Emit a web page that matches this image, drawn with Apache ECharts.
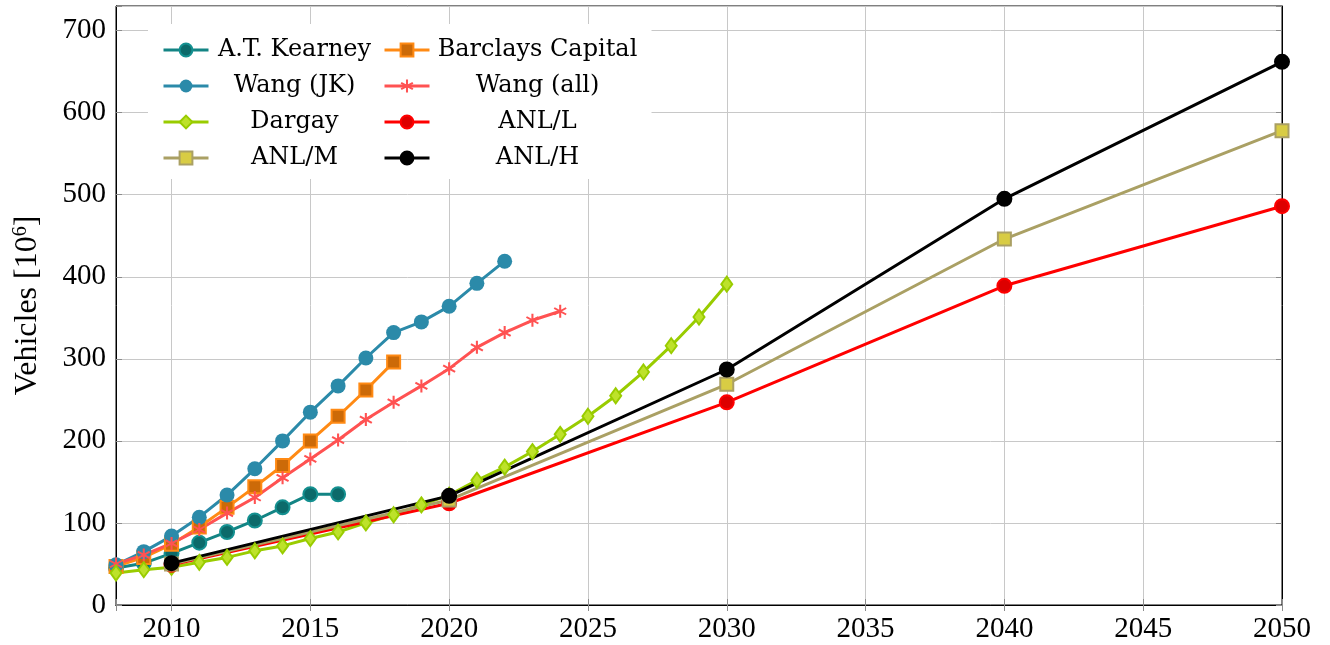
<!DOCTYPE html>
<html>
<head>
<meta charset="utf-8">
<script src="https://cdn.jsdelivr.net/npm/echarts@6/dist/echarts.min.js"></script>
<style>
  html, body { margin: 0; padding: 0; background: #fff; }
  #chart { width: 1330px; height: 645px; }
</style>
</head>
<body>
<div id="chart"></div>
<script>
// Vehicle stock projections (millions of vehicles)
const yearsKearney = [2008, 2009, 2010, 2011, 2012, 2013, 2014, 2015, 2016];
const valsKearney  = [45, 51, 63, 76, 89, 103, 119, 135, 135];

const yearsBarclays = [2008, 2009, 2010, 2011, 2012, 2013, 2014, 2015, 2016, 2017, 2018];
const valsBarclays  = [47, 58, 74, 95, 119, 144, 170, 200, 230, 262, 296];

const yearsWangJK = [2008, 2009, 2010, 2011, 2012, 2013, 2014, 2015, 2016, 2017, 2018, 2019, 2020, 2021, 2022];
const valsWangJK  = [49, 65, 84, 107, 134, 166, 200, 235, 267, 301, 332, 345, 364, 392, 419];

const yearsWangAll = [2008, 2009, 2010, 2011, 2012, 2013, 2014, 2015, 2016, 2017, 2018, 2019, 2020, 2021, 2022, 2023, 2024];
const valsWangAll  = [50, 61, 75, 92, 112, 131, 155, 178, 201, 226, 247, 267, 288, 314, 332, 347, 358];

const yearsDargay = [2008, 2009, 2010, 2011, 2012, 2013, 2014, 2015, 2016, 2017, 2018, 2019,
                     2020, 2021, 2022, 2023, 2024, 2025, 2026, 2027, 2028, 2029, 2030];
const valsDargay  = [39, 43, 46, 52, 58, 66, 72, 81, 89, 100, 110, 122,
                     134, 152, 168, 187, 208, 230, 255, 284, 316, 351, 391];

const yearsANL = [2010, 2020, 2030, 2040, 2050];
const valsANLL = [49, 124, 247, 389, 486];
const valsANLM = [50, 128, 269, 446, 578];
const valsANLH = [51, 133, 287, 495, 662];

const legendLeft  = ['A.T. Kearney', 'Wang (JK)', 'Dargay', 'ANL/M'];
const legendRight = ['Barclays Capital', 'Wang (all)', 'ANL/L', 'ANL/H'];

const pairs = (xs, ys) => xs.map((x, i) => [x, ys[i]]);

// six-armed asterisk marker
const ASTERISK = 'path://M85,0L115,0L115,200L85,200Z' +
  'M179,37L194,63L21,163L6,137Z' +
  'M6,63L21,37L194,137L179,163Z';

const serif = 'Liberation Serif';
const legendFont = 'DejaVu Serif';

function line(name, xs, ys, color, symbol, size, fill, border) {
  return {
    name: name,
    type: 'line',
    data: pairs(xs, ys),
    symbol: symbol,
    symbolSize: size,
    showSymbol: true,
    lineStyle: { color: color, width: 3 },
    itemStyle: { color: fill || color, borderColor: border || color, borderWidth: border ? 2 : 0 },
    emphasis: { disabled: true },
    z: 2
  };
}

const series = [
  line('A.T. Kearney', yearsKearney, valsKearney, '#138484', 'circle', 14, '#0c6a6a', '#149090'),
  line('Barclays Capital', yearsBarclays, valsBarclays, '#ff8a14', 'rect', 13, '#cc6a08', '#ff8a14'),
  line('Wang (JK)', yearsWangJK, valsWangJK, '#2b8aa9', 'circle', 15),
  line('Wang (all)', yearsWangAll, valsWangAll, '#ff5252', ASTERISK, 13),
  line('Dargay', yearsDargay, valsDargay, '#99cc00', 'diamond', [11, 15], '#bde22a', '#99cc00'),
  line('ANL/L', yearsANL, valsANLL, '#ff0000', 'circle', 14, '#dd0000', '#ff0000'),
  line('ANL/M', yearsANL, valsANLM, '#aaa064', 'rect', 13, '#d8cc44', '#aaa064'),
  line('ANL/H', yearsANL, valsANLH, '#000000', 'circle', 14, '#000000', '#000000')
];

function legend(names, left, padding, cellWidth) {
  return {
    data: names,
    orient: 'vertical',
    left: left,
    top: 24,
    padding: padding,
    itemGap: 8,
    itemWidth: 45,
    itemHeight: 16,
    backgroundColor: '#ffffff',
    selectedMode: false,
    lineStyle: { width: 3 },
    formatter: n => '{t|' + n + '}',
    textStyle: {
      fontFamily: legendFont,
      fontSize: 24,
      color: '#000',
      rich: { t: { width: cellWidth, align: 'center', fontFamily: legendFont, fontSize: 24, lineHeight: 28, height: 28 } }
    }
  };
}

const chart = echarts.init(document.getElementById('chart'), null, { renderer: 'canvas' });

const tickStyle = { show: true, inside: true, length: 6, lineStyle: { color: '#8c8c8c', width: 1 } };

chart.setOption({
  animation: false,
  backgroundColor: '#ffffff',
  grid: { left: 116, right: 48, top: 6, bottom: 40, show: true, borderColor: '#000', borderWidth: 1 },
  legend: [
    legend(legendLeft, 148, [12, 6, 7, 14], 162),
    legend(legendRight, 380, [12, 11, 7, 3], 206)
  ],
  xAxis: [{
    type: 'value',
    min: 2008,
    max: 2050,
    minInterval: 5,
    maxInterval: 5,
    splitNumber: 8,
    axisLine: { show: true, lineStyle: { color: '#000', width: 1 } },
    axisTick: tickStyle,
    splitLine: { show: true, lineStyle: { color: '#c8c8c8', width: 1 } },
    axisLabel: {
      margin: 10,
      color: '#000',
      fontFamily: serif,
      fontSize: 29,
      formatter: v => (v % 5 === 0 ? String(v) : '')
    }
  }, {
    type: 'value',
    position: 'top',
    min: 2008,
    max: 2050,
    minInterval: 5,
    maxInterval: 5,
    splitNumber: 8,
    axisLine: { show: true, lineStyle: { color: '#000', width: 1 } },
    axisTick: tickStyle,
    splitLine: { show: false },
    axisLabel: { show: false }
  }],
  yAxis: [{
    type: 'value',
    min: 0,
    max: 730,
    interval: 100,
    name: 'Vehicles [10{s|6}]',
    nameLocation: 'middle',
    nameGap: 72,
    nameTextStyle: {
      color: '#000',
      fontFamily: serif,
      fontSize: 32,
      rich: { s: { fontFamily: serif, fontSize: 20, verticalAlign: 'bottom', padding: [0, 0, 13, 0] } }
    },
    axisLine: { show: true, lineStyle: { color: '#000', width: 1 } },
    axisTick: tickStyle,
    splitLine: { show: true, lineStyle: { color: '#c8c8c8', width: 1 } },
    axisLabel: {
      margin: 10,
      color: '#000',
      fontFamily: serif,
      fontSize: 29,
      formatter: v => (v % 100 === 0 ? String(v) : '')
    }
  }, {
    type: 'value',
    position: 'right',
    min: 0,
    max: 730,
    interval: 100,
    axisLine: { show: true, lineStyle: { color: '#000', width: 1 } },
    axisTick: tickStyle,
    splitLine: { show: false },
    axisLabel: { show: false }
  }],
  series: series
});
</script>
</body>
</html>
